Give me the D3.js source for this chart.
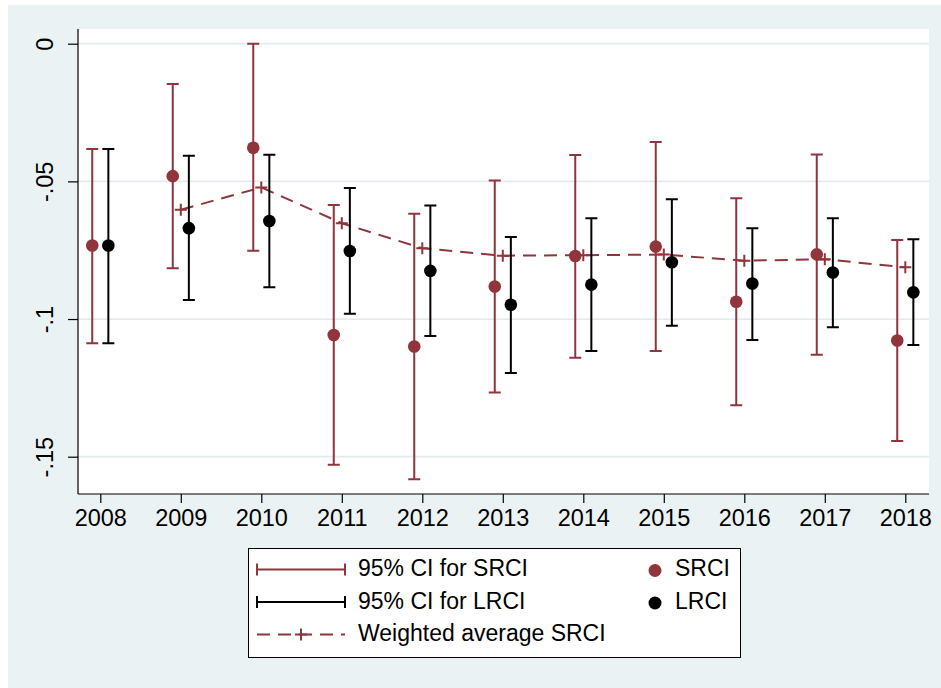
<!DOCTYPE html>
<html>
<head>
<meta charset="utf-8">
<script src="https://cdn.jsdelivr.net/npm/d3@7"></script>
<style>
  body { margin: 0; background: #ffffff; }
  svg { display: block; }
</style>
</head>
<body>
<script>
// Chart size and layout
var W = 941;
var H = 688;
var Maroon = "#90353b";
var BgColor = "#eaf2f3";
var FontFam = "'Liberation Sans', Arial, sans-serif";

// Data
var years = [2008, 2009, 2010, 2011, 2012, 2013, 2014, 2015, 2016, 2017, 2018];
var srci      = [-0.0733, -0.0481, -0.0378, -0.1058, -0.1100, -0.0882, -0.0771, -0.0737, -0.0937, -0.0765, -0.1078];
var srciLow   = [-0.1088, -0.0816, -0.0752, -0.1529, -0.1582, -0.1267, -0.1141, -0.1116, -0.1313, -0.1130, -0.1443];
var srciHigh  = [-0.0382, -0.0146,  0.0000, -0.0586, -0.0618, -0.0497, -0.0404, -0.0357, -0.0561, -0.0402, -0.0713];
var lrci      = [-0.0733, -0.0670, -0.0644, -0.0753, -0.0825, -0.0948, -0.0875, -0.0794, -0.0871, -0.0831, -0.0903];
var lrciLow   = [-0.1088, -0.0931, -0.0885, -0.0981, -0.1062, -0.1196, -0.1116, -0.1024, -0.1076, -0.1030, -0.1094];
var lrciHigh  = [-0.0382, -0.0407, -0.0403, -0.0524, -0.0588, -0.0702, -0.0634, -0.0565, -0.0670, -0.0634, -0.0710];
var waYears   = [2009, 2010, 2011, 2012, 2013, 2014, 2015, 2016, 2017, 2018];
var waSrci    = [-0.0603, -0.0522, -0.0652, -0.0743, -0.0770, -0.0768, -0.0766, -0.0788, -0.0783, -0.0812];
var yTicks = [0, -0.05, -0.1, -0.15];
var yTickLabels = ["0", "-.05", "-.1", "-.15"];
var legendLines = ["95% CI for SRCI", "95% CI for LRCI", "Weighted average SRCI"];
var legendDots = ["SRCI", "LRCI"];

// Plot region in pixels
var plotL = 78, plotR = 929, plotT = 29, plotB = 494;
var offset = 0.1;   // shift of SRCI/LRCI around the year
var capHalf = 6;

function main() {
  var svg = d3.select("body").append("svg")
      .attr("width", W)
      .attr("height", H);

  svg.append("rect")
      .attr("x", 8).attr("y", 5)
      .attr("width", W - 8).attr("height", H - 5)
      .attr("fill", BgColor);

  svg.append("rect")
      .attr("x", plotL).attr("y", plotT)
      .attr("width", plotR - plotL).attr("height", plotB - plotT)
      .attr("fill", "white");

  var xScale = d3.scaleLinear().domain([2008, 2018]).range([100.3, 905.3]);
  var yScale = d3.scaleLinear().domain([-0.15, 0]).range([456.7, 43.7]);

  // gridlines
  svg.selectAll("line.grid")
      .data(yTicks)
      .enter()
      .append("line")
      .attr("class", "grid")
      .attr("x1", plotL).attr("x2", plotR)
      .attr("y1", function(d) { return yScale(d); })
      .attr("y2", function(d) { return yScale(d); })
      .attr("stroke", "#e3eced")
      .attr("stroke-width", 1.8);

  // y axis
  var yAxis = d3.axisLeft(yScale)
      .tickValues(yTicks)
      .tickSize(10)
      .tickFormat(function(d, i) { return yTickLabels[i]; });
  var gy = svg.append("g")
      .attr("transform", "translate(" + plotL + ",0)")
      .call(yAxis);
  gy.select(".domain").attr("d", "M0," + plotT + "V" + plotB).attr("stroke-width", 1.2);
  gy.selectAll(".tick line").attr("stroke-width", 1.2);
  gy.selectAll(".tick text")
      .attr("font-family", FontFam)
      .attr("font-size", "23.5px")
      .attr("fill", "black")
      .attr("x", 0).attr("dy", 0)
      .attr("text-anchor", "middle")
      .attr("transform", "translate(-25,0) rotate(-90)");

  // x axis
  var xAxis = d3.axisBottom(xScale)
      .tickValues(years)
      .tickSize(9)
      .tickPadding(6)
      .tickFormat(d3.format("d"));
  var gx = svg.append("g")
      .attr("transform", "translate(0," + plotB + ")")
      .call(xAxis);
  gx.select(".domain").attr("d", "M" + plotL + ",0H" + plotR).attr("stroke-width", 1.2);
  gx.selectAll(".tick line").attr("stroke-width", 1.2);
  gx.selectAll(".tick text")
      .attr("font-family", FontFam)
      .attr("font-size", "23.5px")
      .attr("fill", "black")
      .attr("dy", 0)
      .attr("y", 32);

  // weighted average line
  var line = d3.line()
      .x(function(d, i) { return xScale(waYears[i]); })
      .y(function(d) { return yScale(d); });
  svg.append("path")
      .datum(waSrci)
      .attr("d", line)
      .attr("fill", "none")
      .attr("stroke", Maroon)
      .attr("stroke-width", 2)
      .attr("stroke-dasharray", "13,8");
  svg.selectAll("path.plus")
      .data(waSrci)
      .enter()
      .append("path")
      .attr("class", "plus")
      .attr("d", function(d, i) {
        var x = xScale(waYears[i]), y = yScale(d);
        return "M" + (x - 6) + "," + y + "H" + (x + 6) + "M" + x + "," + (y - 6) + "V" + (y + 6);
      })
      .attr("stroke", Maroon)
      .attr("stroke-width", 2);

  // CIs and points
  ciBars(svg, xScale, yScale, srciLow, srciHigh, -offset, Maroon);
  ciBars(svg, xScale, yScale, lrciLow, lrciHigh, offset, "black");
  dots(svg, xScale, yScale, srci, -offset, Maroon);
  dots(svg, xScale, yScale, lrci, offset, "black");

  legend(svg);
}

function ciBars(svg, xScale, yScale, lo, hi, off, color) {
  var g = svg.append("g");
  g.selectAll("path")
      .data(years)
      .enter()
      .append("path")
      .attr("d", function(d, i) {
        var x = xScale(d + off), y1 = yScale(hi[i]), y2 = yScale(lo[i]);
        return "M" + x + "," + y1 + "V" + y2 +
               "M" + (x - capHalf) + "," + y1 + "H" + (x + capHalf) +
               "M" + (x - capHalf) + "," + y2 + "H" + (x + capHalf);
      })
      .attr("fill", "none")
      .attr("stroke", color)
      .attr("stroke-width", 2);
}

function dots(svg, xScale, yScale, vals, off, color) {
  svg.append("g").selectAll("circle")
      .data(vals)
      .enter()
      .append("circle")
      .attr("cx", function(d, i) { return xScale(years[i] + off); })
      .attr("cy", function(d) { return yScale(d); })
      .attr("r", 6.3)
      .attr("fill", color);
}

function legend(svg) {
  var g = svg.append("g");
  g.append("rect")
      .attr("x", 248.5).attr("y", 548.5)
      .attr("width", 492).attr("height", 109)
      .attr("fill", "white")
      .attr("stroke", "black")
      .attr("stroke-width", 1);

  var rowY = [569.5, 602, 634.5];
  var colors = [Maroon, "black", Maroon];
  var x1 = 257, x2 = 345;
  legendLines.forEach(function(label, i) {
    var y = rowY[i];
    if (i < 2) {
      g.append("path")
          .attr("d", "M" + x1 + "," + y + "H" + x2 +
                     "M" + x1 + "," + (y - 6) + "V" + (y + 6) +
                     "M" + x2 + "," + (y - 6) + "V" + (y + 6))
          .attr("stroke", colors[i])
          .attr("stroke-width", 2)
          .attr("fill", "none");
    } else {
      g.append("line")
          .attr("x1", x1).attr("x2", x2)
          .attr("y1", y).attr("y2", y)
          .attr("stroke", Maroon)
          .attr("stroke-width", 2)
          .attr("stroke-dasharray", "13,8");
      var cx = (x1 + x2) / 2;
      g.append("path")
          .attr("d", "M" + (cx - 6) + "," + y + "H" + (cx + 6) + "M" + cx + "," + (y - 6) + "V" + (y + 6))
          .attr("stroke", Maroon)
          .attr("stroke-width", 2);
    }
    g.append("text")
        .attr("x", 358)
        .attr("y", y + 6.5)
        .attr("font-family", FontFam)
        .attr("font-size", "23px")
        .text(label);
  });

  var dotColors = [Maroon, "black"];
  legendDots.forEach(function(label, i) {
    var y = rowY[i];
    g.append("circle")
        .attr("cx", 655).attr("cy", y + 1)
        .attr("r", 6.5)
        .attr("fill", dotColors[i]);
    g.append("text")
        .attr("x", 675)
        .attr("y", y + 6.5)
        .attr("font-family", FontFam)
        .attr("font-size", "23px")
        .text(label);
  });
}

main();
</script>
</body>
</html>
